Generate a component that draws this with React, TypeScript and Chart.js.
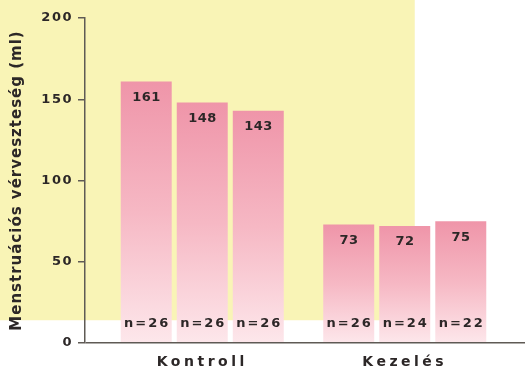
import React, { useEffect, useRef } from 'react';
import { Chart, registerables } from 'chart.js';

Chart.register(...registerables);

// ---- data ----
const categories = ['Kontroll', 'Kezelés'];
const seriesA = [161, 73];
const seriesB = [148, 72];
const seriesC = [143, 75];
const countsA = [26, 26];
const countsB = [26, 24];
const countsC = [26, 22];
const yTicks = [0, 50, 100, 150, 200];
const yTitle = 'Menstruációs vérveszteség (ml)';
const yellowUpTo = 14; // page yellow ends a little above the baseline

// ---- styles ----
const FONT = '"DejaVu Sans", "Open Sans", sans-serif';
const AXIS = '#5f5a55';
const TEXT = '#2c2727';
const YELLOW = '#f9f4b6';
const PINK_TOP = '#ef95a9';
const PINK_MID = '#f6b8c4';
const PINK_BOTTOM = '#fde7eb';

const spaced = (ctx: any, sp: string, fn: () => void) => {
  ctx.save();
  ctx.letterSpacing = sp;
  fn();
  ctx.restore();
};

const layoutPlugin = {
  id: 'layoutTweak',
  afterLayout(chart: any) {
    const xs = chart.scales.x;
    const a = chart.chartArea;
    xs.left = a.left + 16;
    xs.right = a.right - 19;
    xs.width = xs.right - xs.left;
    xs.configure();
    const ys = chart.scales.y;
    const ctx = chart.ctx;
    if (!xs.__patched) {
      const dl = xs.drawLabels.bind(xs);
      xs.drawLabels = (area: any) => spaced(ctx, '3.5px', () => dl(area));
      xs.__patched = true;
    }
    if (!ys.__patched) {
      const dl = ys.drawLabels.bind(ys);
      ys.drawLabels = (area: any) => spaced(ctx, '1.5px', () => dl(area));
      const dt = ys.drawTitle.bind(ys);
      ys.drawTitle = () => spaced(ctx, '1px', () => dt());
      ys.__patched = true;
    }
  },
};

const bgPlugin = {
  id: 'pageYellow',
  beforeDraw(chart: any) {
    const { ctx, width } = chart;
    const yEnd = chart.scales.y.getPixelForValue(yellowUpTo);
    ctx.save();
    ctx.fillStyle = YELLOW;
    ctx.fillRect(0, 0, width * 0.79, yEnd);
    ctx.restore();
  },
};

const labelPlugin = {
  id: 'barLabels',
  afterDatasetsDraw(chart: any) {
    const ctx = chart.ctx;
    const base = chart.scales.y.getPixelForValue(0);
    chart.data.datasets.forEach((ds: any, i: number) => {
      const meta = chart.getDatasetMeta(i);
      meta.data.forEach((el: any, j: number) => {
        const { x, y } = el.getProps(['x', 'y'], true);
        ctx.save();
        ctx.fillStyle = TEXT;
        ctx.textAlign = 'center';
        ctx.textBaseline = 'middle';
        ctx.font = `bold 13px ${FONT}`;
        ctx.letterSpacing = '0.5px';
        ctx.fillText(String(ds.data[j]), x + 0.25, y + 16);
        ctx.letterSpacing = '2px';
        ctx.fillText('n=' + ds.counts[j], x + 1, base - 19);
        ctx.restore();
      });
    });
  },
};

const gradientFill = (c: any) => {
  const chart = c.chart;
  const { ctx, chartArea, scales } = chart;
  if (!chartArea || !scales.y || typeof c.raw !== 'number') return PINK_TOP;
  const top = scales.y.getPixelForValue(c.raw);
  const base = scales.y.getPixelForValue(0);
  const g = ctx.createLinearGradient(0, top, 0, base);
  g.addColorStop(0, PINK_TOP);
  g.addColorStop(0.5, PINK_MID);
  g.addColorStop(1, PINK_BOTTOM);
  return g;
};

export default function App() {
  const ref = useRef<HTMLCanvasElement | null>(null);

  useEffect(() => {
    document.body.style.margin = '0';
    if (!ref.current) return;
    const common = {
      backgroundColor: gradientFill,
      borderWidth: 0,
      categoryPercentage: 0.83,
      barPercentage: 0.91,
    };
    const chart = new Chart(ref.current, {
      type: 'bar',
      data: {
        labels: categories,
        datasets: [
          { label: 'A', data: seriesA, counts: countsA, ...common } as any,
          { label: 'B', data: seriesB, counts: countsB, ...common } as any,
          { label: 'C', data: seriesC, counts: countsC, ...common } as any,
        ],
      },
      options: {
        animation: false,
        responsive: false,
        events: [],
        layout: { padding: { top: 18, right: 0, left: 0, bottom: 0 } },
        plugins: {
          legend: { display: false },
          tooltip: { enabled: false },
        },
        scales: {
          x: {
            offset: true,
            grid: { display: false, drawTicks: false },
            border: { display: false },
            ticks: {
              font: { family: FONT, size: 14, weight: 'bold' },
              color: TEXT,
              padding: 11,
            },
            afterFit: (s: any) => {
              s.height = 29;
            },
          },
          y: {
            min: 0,
            max: 200,
            afterBuildTicks: (s: any) => {
              s.ticks = yTicks.map((value) => ({ value }));
            },
            afterFit: (s: any) => {
              s.width = 85;
            },
            border: { display: true, color: AXIS, width: 1.5, z: 1 },
            grid: {
              z: 1,
              drawTicks: true,
              tickLength: 7,
              tickColor: AXIS,
              lineWidth: 1.5,
              color: (c: any) => (c.tick && c.tick.value === 0 ? AXIS : 'rgba(0,0,0,0)'),
            },
            ticks: {
              font: { family: FONT, size: 13, weight: 'bold' },
              color: TEXT,
              padding: 5,
            },
            title: {
              display: true,
              text: yTitle,
              font: { family: FONT, size: 15, weight: 'bold' },
              color: TEXT,
              padding: { top: 8, bottom: 0 },
            },
          },
        },
      } as any,
      plugins: [layoutPlugin, bgPlugin, labelPlugin],
    });
    return () => chart.destroy();
  }, []);

  return (
    <div style={{ position: 'fixed', left: 0, top: 0, width: 525, height: 372, background: '#ffffff' }}>
      <canvas ref={ref} width={525} height={372} style={{ display: 'block' }} />
    </div>
  );
}
